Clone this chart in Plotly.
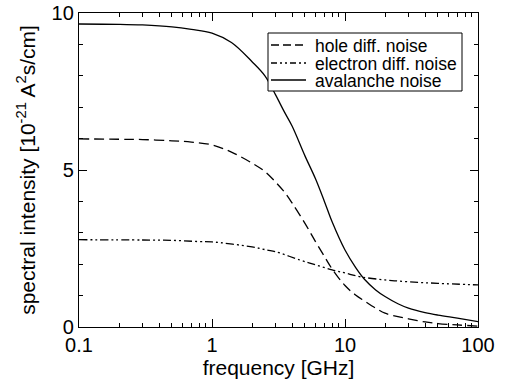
import plotly.graph_objects as go

# frequencies in GHz
freq_av = [0.1, 0.2, 0.3, 0.5, 0.7, 1, 1.4, 2, 2.5, 3, 3.5, 4, 5, 6, 7, 8, 10, 12, 14, 17, 20, 25, 30, 40, 50, 70, 100]
avalanche = [9.65, 9.64, 9.62, 9.56, 9.48, 9.36, 9.06, 8.45, 8.0, 7.4, 6.85, 6.40, 5.45, 4.72, 4.0, 3.35, 2.45, 1.90, 1.52, 1.18, 0.97, 0.74, 0.60, 0.46, 0.38, 0.28, 0.17]

freq_hole = [0.1, 0.2, 0.3, 0.5, 0.7, 1, 1.4, 2, 2.5, 3, 3.5, 4, 5, 6, 7, 8, 10, 12, 14, 17, 20, 25, 30, 40, 50, 70, 100]
hole = [5.99, 5.98, 5.97, 5.93, 5.89, 5.80, 5.57, 5.22, 4.95, 4.62, 4.30, 3.95, 3.30, 2.72, 2.25, 1.85, 1.32, 1.02, 0.83, 0.60, 0.44, 0.33, 0.26, 0.16, 0.11, 0.065, 0.03]

freq_el = [0.1, 0.3, 0.5, 0.8, 1, 2, 2.6, 3, 4.6, 6, 8, 10, 13, 20, 30, 50, 100]
electron = [2.78, 2.77, 2.76, 2.72, 2.71, 2.55, 2.45, 2.40, 2.13, 1.98, 1.82, 1.72, 1.60, 1.50, 1.44, 1.39, 1.34]

series_names = ["hole diff. noise", "electron diff. noise", "avalanche noise"]

x_ticks = [0.1, 1, 10, 100]
x_ticktext = ["0.1", "1", "10", "100"]
x_minor = [m * d for d in (0.1, 1, 10) for m in range(2, 10)]
y_ticks = [0, 5, 10]
y_minor = [1, 2, 3, 4, 6, 7, 8, 9]

FONT = "Liberation Sans, Arial, sans-serif"
DASHES = ["10px,5px", "8px,3px,2px,3px,2px,3px", "solid"]

fig = go.Figure()
for fx, fy, name, dash in zip([freq_hole, freq_el, freq_av], [hole, electron, avalanche], series_names, DASHES):
    fig.add_trace(go.Scatter(x=fx, y=fy, mode="lines", name=name, showlegend=False,
                             line=dict(color="black", width=1.3, dash=dash, shape="spline")))

# manual legend (box, line samples, labels) in paper coordinates
L, R, T, B = 79, 478, 13, 327
def px(x):
    return (x - L) / (R - L)
def py(y):
    return (B - y) / (B - T)

fig.add_shape(type="rect", xref="paper", yref="paper",
              x0=px(268), x1=px(462), y0=py(91), y1=py(33),
              line=dict(color="black", width=1), fillcolor="white", layer="above")
legend_dashes = ["8px,4px", "6px,3px,2px,3px,2px,3px", "solid"]
for name, dash, ry in zip(series_names, legend_dashes, [45, 63, 80]):
    fig.add_shape(type="line", xref="paper", yref="paper",
                  x0=px(271), x1=px(306), y0=py(ry), y1=py(ry),
                  line=dict(color="black", width=1.3, dash=dash), layer="above")
    fig.add_annotation(xref="paper", yref="paper", x=px(313), y=py(ry + 0.5),
                       xanchor="left", yanchor="middle", showarrow=False,
                       text=name, font=dict(size=17.5, family=FONT, color="black"))

fig.update_layout(
    width=509, height=385,
    margin=dict(l=L, r=509 - R, t=T, b=385 - B, autoexpand=False),
    paper_bgcolor="white", plot_bgcolor="white",
    font=dict(family=FONT, color="black", size=20),
    showlegend=False,
)
fig.update_xaxes(
    type="log", range=[-1, 2], automargin=False,
    tickvals=x_ticks, ticktext=x_ticktext,
    ticks="inside", ticklen=8, tickwidth=1, tickcolor="black",
    minor=dict(tickvals=x_minor, ticks="inside", ticklen=4, tickwidth=1, tickcolor="black"),
    showline=True, linecolor="black", linewidth=1.3, mirror="allticks",
    showgrid=False, zeroline=False,
    tickfont=dict(size=20),
    title=dict(text="frequency [GHz]", font=dict(size=21), standoff=4),
)
fig.update_yaxes(
    range=[0, 10], automargin=False,
    tickvals=y_ticks,
    ticks="inside", ticklen=8, tickwidth=1, tickcolor="black",
    minor=dict(tickvals=y_minor, ticks="inside", ticklen=4, tickwidth=1, tickcolor="black"),
    showline=True, linecolor="black", linewidth=1.3, mirror="allticks",
    showgrid=False, zeroline=False,
    tickfont=dict(size=20),
    title=dict(text="spectral intensity [10<sup>-21</sup> A<sup>2</sup>s/cm]", font=dict(size=21), standoff=10),
)

fig.write_html("out.html")
